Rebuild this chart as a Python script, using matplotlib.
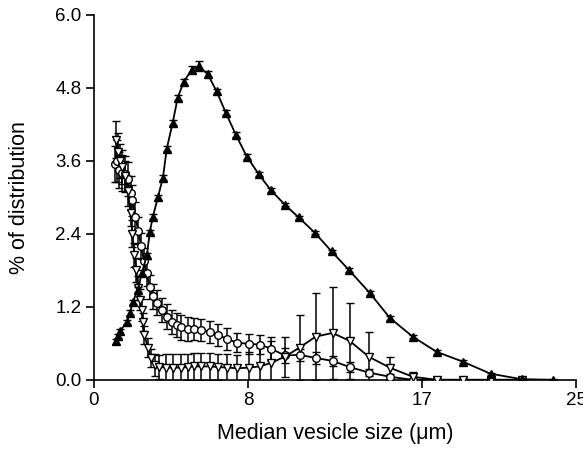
import numpy as np
import matplotlib
matplotlib.use("Agg")
import matplotlib.pyplot as plt

plt.rcParams['font.family'] = ['Liberation Sans', 'DejaVu Sans']

# -----------------------------------------------------------------------------
#                       data
# -----------------------------------------------------------------------------
# filled up-triangles
x_tri = [1.14, 1.24, 1.35, 1.71, 1.87, 2.02, 2.28, 2.49, 2.75, 2.9, 3.06, 3.32,
         3.58, 3.78, 4.09, 4.35, 4.66, 5.08, 5.44, 5.91, 6.37, 6.84, 7.36, 7.93,
         8.55, 9.17, 9.9, 10.62, 11.45, 12.33, 13.21, 14.3, 15.34, 16.53, 17.77,
         19.12, 20.57, 22.18, 23.83]
y_tri = [0.63, 0.72, 0.80, 0.95, 1.10, 1.28, 1.48, 1.76, 2.05, 2.43, 2.68, 3.00,
         3.32, 3.80, 4.23, 4.64, 4.90, 5.10, 5.16, 5.02, 4.74, 4.39, 4.03, 3.67,
         3.38, 3.12, 2.88, 2.67, 2.42, 2.11, 1.81, 1.43, 1.02, 0.71, 0.46,
         0.30, 0.10, 0.01, 0.0]
e_tri = [0.04, 0.04, 0.04, 0.04, 0.04, 0.04, 0.04, 0.04, 0.04, 0.04, 0.04, 0.04,
         0.04, 0.04, 0.04, 0.04, 0.05, 0.06, 0.08, 0.05, 0.04, 0.04, 0.04, 0.04,
         0.03, 0.03, 0.03, 0.03, 0.03, 0.03, 0.03, 0.03, 0.03, 0.03, 0.03,
         0.02, 0.02, 0.02, 0.02]

# open circles
x_circ = [1.1, 1.2, 1.3, 1.45, 1.6, 1.75, 1.9, 2.0, 2.15, 2.3, 2.45, 2.6,
          2.73, 2.9, 3.07, 3.25, 3.51, 3.77, 4.03, 4.29, 4.54, 4.89, 5.18, 5.58,
          6.01, 6.44, 6.91, 7.44, 8.05, 8.6, 9.2, 9.9, 10.67, 11.5, 12.38, 13.26,
          14.25, 15.34, 16.53, 17.77, 19.12, 20.57, 22.18]
y_circ = [3.55, 3.60, 3.45, 3.40, 3.38, 3.30, 3.07, 2.95, 2.68, 2.45, 2.20, 1.95,
          1.76, 1.53, 1.37, 1.27, 1.15, 1.04, 0.95, 0.90, 0.86, 0.84, 0.84, 0.82,
          0.79, 0.74, 0.67, 0.61, 0.59, 0.58, 0.51, 0.40, 0.41, 0.36, 0.31, 0.21,
          0.12, 0.05, 0.0, 0.0, 0.0, 0.0, 0.0]
e_circ = [0.30, 0.35, 0.30, 0.30, 0.30, 0.28, 0.28, 0.25, 0.25, 0.22, 0.22, 0.22,
          0.22, 0.20, 0.20, 0.20, 0.20, 0.20, 0.20, 0.20, 0.20, 0.20, 0.18, 0.18,
          0.18, 0.18, 0.18, 0.16, 0.16, 0.16, 0.20, 0.12, 0.10, 0.10, 0.08, 0.08,
          0.06, 0.05, 0.02, 0.02, 0.02, 0.02, 0.02]

# open down-triangles
x_inv = [1.15, 1.25, 1.35, 1.45, 1.6, 1.75, 1.9, 2.0, 2.1, 2.2, 2.28, 2.38,
         2.48, 2.55, 2.62, 2.8, 2.95, 3.15, 3.4, 3.75, 4.1, 4.54, 4.89, 5.18,
         5.58, 6.01, 6.44, 6.91, 7.44, 8.05, 8.6, 9.2, 9.9, 10.67, 11.5, 12.38,
         13.26, 14.25, 15.34, 16.53, 17.77, 19.12, 20.57, 22.18]
y_inv = [3.95, 3.75, 3.60, 3.50, 3.35, 3.10, 2.75, 2.40, 2.05, 1.80, 1.51, 1.32,
         1.15, 0.95, 0.74, 0.53, 0.36, 0.25, 0.21, 0.20, 0.20, 0.20, 0.21, 0.22,
         0.22, 0.22, 0.21, 0.20, 0.19, 0.20, 0.22, 0.28, 0.38, 0.53, 0.71, 0.77,
         0.64, 0.38, 0.20, 0.05, 0.0, 0.0, 0.0, 0.0]
e_inv = [0.30, 0.30, 0.28, 0.28, 0.25, 0.25, 0.22, 0.22, 0.20, 0.20, 0.20, 0.18,
         0.18, 0.15, 0.15, 0.15, 0.15, 0.18, 0.20, 0.22, 0.22, 0.22, 0.22, 0.22,
         0.22, 0.22, 0.22, 0.22, 0.22, 0.25, 0.30, 0.35, 0.33, 0.54, 0.72, 0.76,
         0.63, 0.41, 0.18, 0.08, 0.02, 0.02, 0.02, 0.02]

x_ticks = [0, 8, 17, 25]
y_ticks = [0.0, 1.2, 2.4, 3.6, 4.8, 6.0]

# -----------------------------------------------------------------------------
#                                  figure
# -----------------------------------------------------------------------------
fig = plt.figure(figsize=(5.83, 4.5), dpi=100)
ax = fig.add_axes([0.161, 0.156, 0.827, 0.811])

common = dict(color='k', ecolor='k', elinewidth=1.1, capsize=3, capthick=1.1,
              lw=1.3, markersize=5.5, markeredgewidth=1.0)

ax.errorbar(x_circ, y_circ, yerr=e_circ, fmt='-o', mfc='white', mec='k', zorder=3, **common)
ax.errorbar(x_inv, y_inv, yerr=e_inv, fmt='-v', mfc='white', mec='k', zorder=3, **common)
ax.errorbar(x_tri, y_tri, yerr=e_tri, fmt='-^', mfc='k', mec='k', zorder=4, **common)

ax.set_xlim(0, 25)
ax.set_ylim(0, 6)
ax.set_xticks(x_ticks)
ax.set_yticks(y_ticks)
ax.set_yticklabels(['%.1f' % v for v in y_ticks])

for s in ['top', 'right']:
    ax.spines[s].set_visible(False)
for s in ['left', 'bottom']:
    ax.spines[s].set_linewidth(1.2)

ax.tick_params(direction='out', length=6, width=1.2, labelsize=13.5, pad=3)

ax.set_xlabel('Median vesicle size (\u03bcm)', fontsize=15.5, labelpad=10)
ax.set_ylabel('% of distribution', fontsize=15.5, labelpad=18)

fig.savefig('out.png', dpi=100)
